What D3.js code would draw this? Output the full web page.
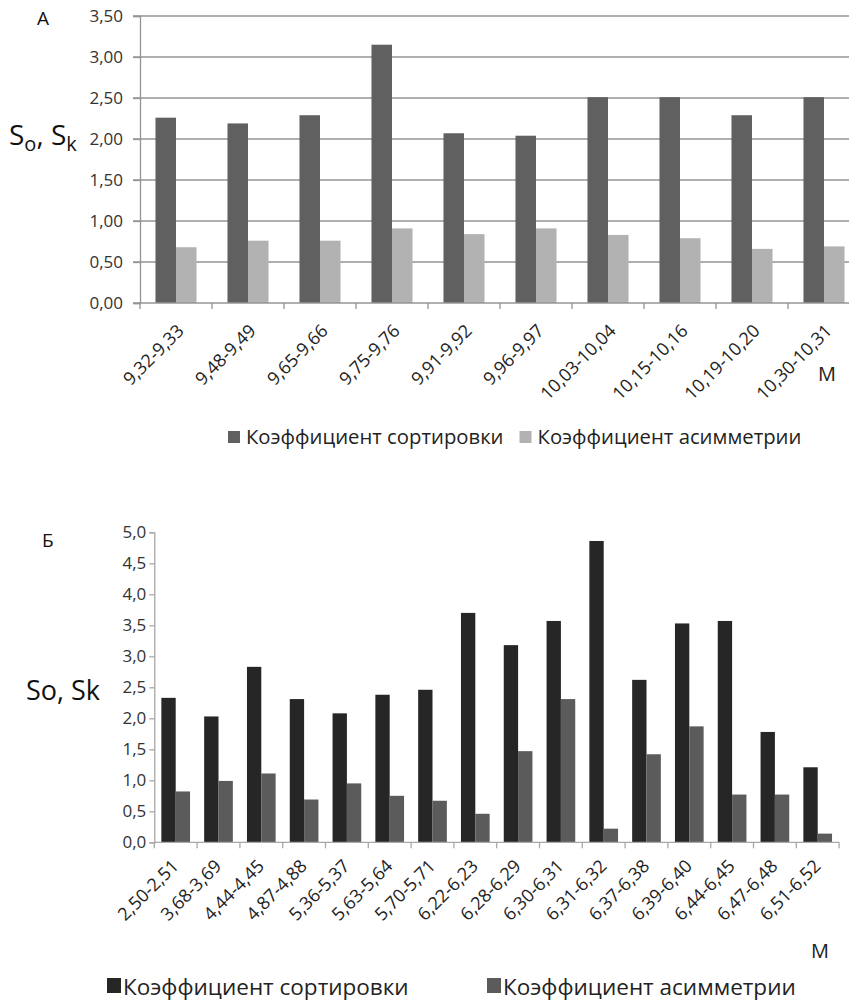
<!DOCTYPE html>
<html>
<head>
<meta charset="utf-8">
<script src="https://cdn.jsdelivr.net/npm/d3@7"></script>
<style>
  html, body { margin: 0; padding: 0; background: #fff; }
  svg { display: block; }
  text { font-family: "Open Sans", "Noto Sans", sans-serif; }
</style>
</head>
<body>
<svg id="chart" width="849" height="1003"></svg>
<script>
// ---------- DATA ----------
const catsA = ["9,32-9,33","9,48-9,49","9,65-9,66","9,75-9,76","9,91-9,92","9,96-9,97","10,03-10,04","10,15-10,16","10,19-10,20","10,30-10,31"];
const sortA = [2.26, 2.19, 2.29, 3.15, 2.07, 2.04, 2.51, 2.51, 2.29, 2.51];
const asymA = [0.68, 0.76, 0.76, 0.91, 0.84, 0.91, 0.83, 0.79, 0.66, 0.69];
const ticksA = [0, 0.5, 1, 1.5, 2, 2.5, 3, 3.5];

const catsB = ["2,50-2,51","3,68-3,69","4,44-4,45","4,87-4,88","5,36-5,37","5,63-5,64","5,70-5,71","6,22-6,23","6,28-6,29","6,30-6,31","6,31-6,32","6,37-6,38","6,39-6,40","6,44-6,45","6,47-6,48","6,51-6,52"];
const sortB = [2.33, 2.03, 2.83, 2.31, 2.08, 2.38, 2.46, 3.70, 3.18, 3.57, 4.86, 2.62, 3.53, 3.57, 1.78, 1.21];
const asymB = [0.82, 0.99, 1.11, 0.69, 0.95, 0.75, 0.67, 0.46, 1.47, 2.31, 0.22, 1.42, 1.87, 0.77, 0.77, 0.14];
const ticksB = [0, 0.5, 1, 1.5, 2, 2.5, 3, 3.5, 4, 4.5, 5];

const seriesNames = ["Коэффициент сортировки", "Коэффициент асимметрии"];

const svg = d3.select("#chart");
const fmt2 = d => d.toFixed(2).replace(".", ",");
const fmt1 = d => d.toFixed(1).replace(".", ",");

// ---------- CHART A ----------
(function () {
  const left = 140, bandW = 72, top = 16, bottom = 303;
  const x = d3.scaleBand().domain(catsA).range([left, left + bandW * catsA.length]).paddingInner(0.43).paddingOuter(0.215);
  const y = d3.scaleLinear().domain([0, 3.5]).range([bottom, top]);
  const g = svg.append("g");
  const colors = ["#606060", "#b2b2b2"];

  g.append("g").selectAll("line").data(ticksA.filter(d => d > 0)).join("line")
    .attr("x1", left - 7).attr("x2", 849).attr("y1", d => y(d)).attr("y2", d => y(d))
    .attr("stroke", "#949494").attr("stroke-width", 1.3);

  const bw = x.bandwidth() / 2;
  [sortA, asymA].forEach((vals, s) => {
    g.append("g").selectAll("rect").data(vals).join("rect")
      .attr("x", (d, i) => x(catsA[i]) + s * bw)
      .attr("y", d => y(d)).attr("width", bw).attr("height", d => y(0) - y(d))
      .attr("fill", colors[s]);
  });

  const ya = g.append("g").attr("transform", `translate(${left},0)`)
    .call(d3.axisLeft(y).tickValues(ticksA).tickFormat(fmt2).tickSize(7).tickPadding(10));
  ya.select(".domain").attr("stroke", "#949494").attr("stroke-width", 1.3);
  ya.selectAll(".tick line").attr("stroke", "#949494").attr("stroke-width", 1.3);
  ya.selectAll("text").attr("font-size", 17).attr("fill", "#333");

  g.append("line").attr("x1", left - 7).attr("x2", 849).attr("y1", bottom).attr("y2", bottom)
    .attr("stroke", "#949494").attr("stroke-width", 1.3);
  g.append("g").selectAll("line").data(d3.range(catsA.length + 1)).join("line")
    .attr("x1", i => left + i * bandW).attr("x2", i => left + i * bandW)
    .attr("y1", bottom).attr("y2", bottom + 6).attr("stroke", "#949494").attr("stroke-width", 1.3);

  g.append("g").selectAll("text").data(catsA).join("text")
    .attr("transform", d => `translate(${x(d) + x.bandwidth() / 2 + 9},${bottom + 29}) rotate(-45)`)
    .attr("text-anchor", "end").attr("font-size", 18).attr("fill", "#222").text(d => d);

  g.append("text").attr("x", 37).attr("y", 25).attr("font-size", 19).attr("fill", "#111").text("А");
  const t = g.append("text").attr("x", 9).attr("y", 145).attr("font-size", 28).attr("fill", "#111");
  t.append("tspan").text("S");
  t.append("tspan").attr("font-size", 20).attr("dy", 6).text("o");
  t.append("tspan").attr("dy", -6).text(", S");
  t.append("tspan").attr("font-size", 20).attr("dy", 6).text("k");
  g.append("text").attr("x", 818).attr("y", 381).attr("font-size", 20).attr("fill", "#222").text("М");

  // legend: compact row ending near x=790
  const lg = g.append("g");
  let cx = 228;
  seriesNames.forEach((n, i) => {
    lg.append("rect").attr("x", cx).attr("y", 431).attr("width", 12).attr("height", 12).attr("fill", colors[i]);
    const tx = lg.append("text").attr("x", cx + 18).attr("y", 444).attr("font-size", 20.3).attr("fill", "#222").text(n);
    cx += 18 + tx.node().getComputedTextLength() + 16;
  });
})();

// ---------- CHART B ----------
(function () {
  const left = 154.3, bandW = 42.8, top = 532.3, bottom = 842.3;
  const x = d3.scaleBand().domain(catsB).range([left, left + bandW * catsB.length]).paddingInner(0.33).paddingOuter(0.165);
  const y = d3.scaleLinear().domain([0, 5]).range([bottom, top]);
  const g = svg.append("g");
  const colors = ["#262626", "#5b5b5b"];

  const bw = x.bandwidth() / 2;
  [sortB, asymB].forEach((vals, s) => {
    g.append("g").selectAll("rect").data(vals).join("rect")
      .attr("x", (d, i) => x(catsB[i]) + s * bw)
      .attr("y", d => y(d)).attr("width", bw).attr("height", d => y(0) - y(d))
      .attr("fill", colors[s]);
  });

  const ya = g.append("g").attr("transform", `translate(${left},0)`)
    .call(d3.axisLeft(y).tickValues(ticksB).tickFormat(fmt1).tickSize(5).tickPadding(3));
  ya.select(".domain").attr("stroke", "#a8a8a8").attr("stroke-width", 1.3);
  ya.selectAll(".tick line").attr("stroke", "#a8a8a8").attr("stroke-width", 1.3);
  ya.selectAll("text").attr("font-size", 17).attr("fill", "#333");

  g.append("line").attr("x1", left).attr("x2", left + bandW * catsB.length).attr("y1", bottom).attr("y2", bottom)
    .attr("stroke", "#a8a8a8").attr("stroke-width", 1.3);
  g.append("g").selectAll("line").data(d3.range(catsB.length + 1)).join("line")
    .attr("x1", i => left + i * bandW).attr("x2", i => left + i * bandW)
    .attr("y1", bottom).attr("y2", bottom + 6).attr("stroke", "#a8a8a8").attr("stroke-width", 1.3);

  g.append("g").selectAll("text").data(catsB).join("text")
    .attr("transform", d => `translate(${x(d) + x.bandwidth() / 2 + 4},${bottom + 25}) rotate(-45)`)
    .attr("text-anchor", "end").attr("font-size", 18).attr("fill", "#222").text(d => d);

  g.append("text").attr("x", 42).attr("y", 547).attr("font-size", 19).attr("fill", "#111").text("Б");
  g.append("text").attr("x", 26).attr("y", 700).attr("font-size", 27).attr("fill", "#111").text("So, Sk");
  g.append("text").attr("x", 811).attr("y", 958).attr("font-size", 20).attr("fill", "#222").text("М");

  const lx = [107, 487];
  seriesNames.forEach((n, i) => {
    g.append("rect").attr("x", lx[i]).attr("y", 978).attr("width", 14).attr("height", 15).attr("fill", colors[i]);
    g.append("text").attr("x", lx[i] + 16).attr("y", 995).attr("font-size", 22.5).attr("fill", "#222").text(n);
  });
})();
</script>
</body>
</html>
